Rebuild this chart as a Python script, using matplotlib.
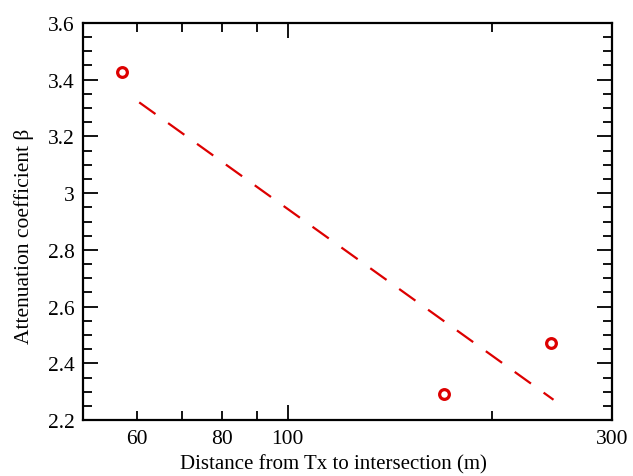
import numpy as np
import matplotlib.pyplot as plt
from matplotlib.ticker import FixedLocator, FixedFormatter, MultipleLocator

# Dados medidos (distância em m, coeficiente de atenuação)
distancia = [57.1, 169.8, 243.7]
beta = [3.427, 2.292, 2.472]

# Faixa da reta ajustada
faixa_ajuste = [60.5, 246.0]

x_major = [100, 300]
x_minor = [60, 70, 80, 90, 200]
x_labels = {60: "60", 80: "80", 100: "100", 300: "300"}

plt.rcParams['font.family'] = ['Liberation Serif', 'DejaVu Serif']

fig = plt.figure(figsize=(6.33, 4.77), dpi=100)
ax = fig.add_axes([0.131, 0.117, 0.836, 0.833])

# Ajuste linear em log10(d)
coef = np.polyfit(np.log10(distancia), beta, 1)
xf = np.linspace(faixa_ajuste[0], faixa_ajuste[1], 200)
yf = np.polyval(coef, np.log10(xf))
ax.plot(xf, yf, color='#dd0000', lw=1.6, linestyle=(0, (9, 7)))

ax.plot(distancia, beta, linestyle='none', marker='o', ms=7, mfc='white',
        mec='#dd0000', mew=2.3)

ax.set_xscale('log')
ax.set_xlim(50, 300)
ax.set_ylim(2.2, 3.6)

ax.xaxis.set_major_locator(FixedLocator(x_major))
ax.xaxis.set_minor_locator(FixedLocator(x_minor))
ax.xaxis.set_major_formatter(FixedFormatter([x_labels[v] for v in x_major]))
ax.xaxis.set_minor_formatter(FixedFormatter([x_labels.get(v, "") for v in x_minor]))

ax.yaxis.set_minor_locator(MultipleLocator(0.05))
ax.set_yticks(np.arange(2.2, 3.61, 0.2))
ax.set_yticklabels(["2.2", "2.4", "2.6", "2.8", "3", "3.2", "3.4", "3.6"])

ax.tick_params(which='both', direction='in', top=True, right=True, labelsize=15.5, width=1.3)
ax.tick_params(which='major', length=11, pad=6)
ax.tick_params(which='minor', length=6.5, pad=6)
for s in ax.spines.values():
    s.set_linewidth(1.6)

ax.set_xlabel("Distance from Tx to intersection (m)", fontsize=15, labelpad=5)
ax.set_ylabel("Attenuation coefficient β", fontsize=15.5, labelpad=10)
ax.xaxis.label.set_x(0.473)
ax.yaxis.label.set_y(0.466)

fig.savefig("out.png", dpi=100)
